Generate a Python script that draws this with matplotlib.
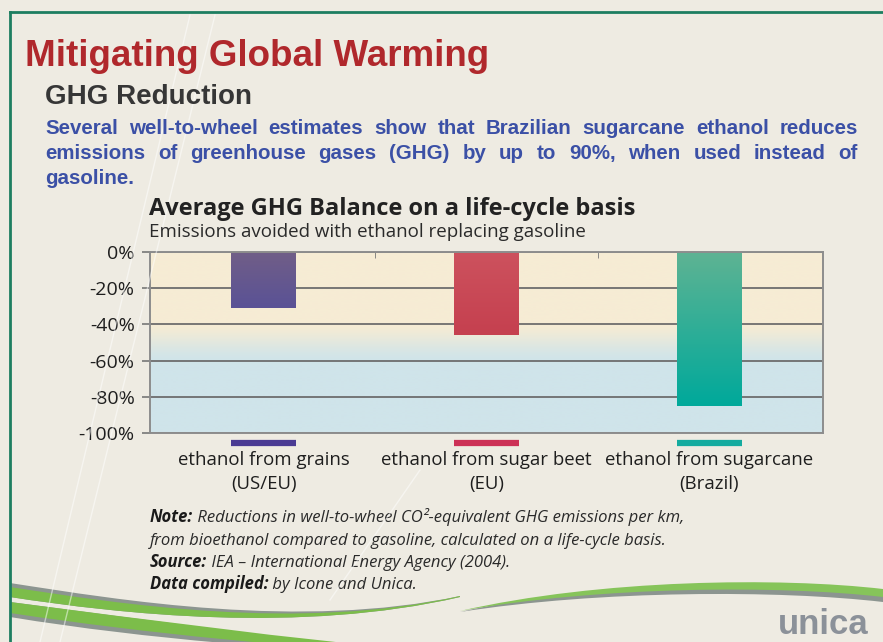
import numpy as np
import matplotlib.pyplot as plt
from matplotlib.colors import to_rgb
from matplotlib.patches import PathPatch
from matplotlib.path import Path
from matplotlib.lines import Line2D

# --- Data ---
categories = ['ethanol from grains\n(US/EU)',
              'ethanol from sugar beet\n(EU)',
              'ethanol from sugarcane\n(Brazil)']
reduction = [-31, -46, -85]          # % change in GHG emissions vs gasoline
bar_top = ['#715e87', '#cd525e', '#5eb393']
bar_bottom = ['#5a5296', '#c5404f', '#00a99b']
swatch_colors = ['#4a3b93', '#cc3156', '#14ab9f']
yticks = [0, -20, -40, -60, -80, -100]
ytick_labels = ['0%', '-20%', '-40%', '-60%', '-80%', '-100%']

W, H = 883, 642
BG = '#eeebe2'
ARIAL = ['Liberation Sans', 'DejaVu Sans']
HUMAN = ['Open Sans', 'DejaVu Sans']


def fx(x):
    return x / W


def fy(y):
    return 1 - y / H


fig = plt.figure(figsize=(W / 100, H / 100), dpi=100)
fig.patch.set_facecolor(BG)

# slide border (top + left)
fig.add_artist(Line2D([fx(10), fx(883)], [fy(12), fy(12)], color='#1d7e60', lw=2))
fig.add_artist(Line2D([fx(10), fx(10)], [fy(12), fy(642)], color='#1d7e60', lw=2))

# faint streaks in the background
for (x0, y0, x1, y1) in [(40, 642, 190, 15), (60, 642, 215, 15), (330, 600, 420, 470)]:
    fig.add_artist(Line2D([fx(x0), fx(x1)], [fy(y0), fy(y1)], color='white', lw=1, alpha=0.5))

# --- Headings ---
fig.text(fx(25), fy(66), 'Mitigating Global Warming', color='#b0282c', fontsize=26.5,
         fontweight='bold', family=ARIAL, va='baseline')
fig.text(fx(45), fy(104), 'GHG Reduction', color='#363636', fontsize=20,
         fontweight='bold', family=ARIAL, va='baseline')

# justified blue paragraph
para = ['Several well-to-wheel estimates show that Brazilian sugarcane ethanol reduces',
        'emissions of greenhouse gases (GHG) by up to 90%, when used instead of',
        'gasoline.']
baselines = [134, 159, 184]
renderer = fig.canvas.get_renderer()
left, right = 45, 858
for k, (line, yb) in enumerate(zip(para, baselines)):
    words = line.split()
    if k == len(para) - 1:
        fig.text(fx(left), fy(yb), line, color='#3b50a6', fontsize=14.8,
                 fontweight='bold', family=ARIAL, va='baseline')
        continue
    arts = [fig.text(0, fy(yb), w_, color='#3b50a6', fontsize=14.8, fontweight='bold',
                     family=ARIAL, va='baseline') for w_ in words]
    widths = [a.get_window_extent(renderer).width for a in arts]
    gap = (right - left - sum(widths)) / (len(words) - 1)
    xpos = left
    for a, wd in zip(arts, widths):
        a.set_x(fx(xpos))
        xpos += wd + gap

# chart headings
fig.text(fx(149), fy(215), 'Average GHG Balance on a life-cycle basis', fontsize=17,
         fontweight='bold', color='#222222', family=HUMAN, va='baseline')
fig.text(fx(149), fy(237), 'Emissions avoided with ethanol replacing gasoline', fontsize=13.5,
         color='#2a2a2a', family=HUMAN, va='baseline')

# --- Chart ---
ax = fig.add_axes([fx(150), fy(433), 673 / W, 181 / H])
x = np.arange(len(categories))
xlim = (-0.51, 2.51)

# background gradient: cream at top fading to pale blue
ys = np.linspace(0, -100, 200)
t = np.clip((-ys - 38) / 24, 0, 1)
t = t * t * (3 - 2 * t)
cream = np.array(to_rgb('#f6ecd4'))
blue = np.array(to_rgb('#cfe4ea'))
grad = cream[None, :] * (1 - t[:, None]) + blue[None, :] * t[:, None]
ax.imshow(grad[:, None, :], extent=[xlim[0], xlim[1], -100, 0], aspect='auto',
          zorder=0, interpolation='bilinear')

width = 0.29
bars = ax.bar(x, reduction, width=width, color=bar_bottom, zorder=2)
for b, c0, c1, v, xi in zip(bars, bar_top, bar_bottom, reduction, x):
    s = np.linspace(0, 1, 100)[:, None]
    g = np.array(to_rgb(c0))[None, :] * (1 - s) + np.array(to_rgb(c1))[None, :] * s
    im = ax.imshow(g[:, None, :], extent=[xi - width / 2, xi + width / 2, v, 0],
                   aspect='auto', zorder=2.1, interpolation='bilinear')
    im.set_clip_path(b)

# colour swatches under the axis
for xi, c in zip(x, swatch_colors):
    ax.plot([xi - width / 2, xi + width / 2], [-105.5, -105.5], color=c, lw=4.5,
            solid_capstyle='butt', clip_on=False, zorder=3)

ax.set_xlim(*xlim)
ax.set_ylim(-100, 0)
ax.set_yticks(yticks, ytick_labels)
ax.set_xticks(x, categories)
ax.set_xticks([0.5, 1.5], minor=True)
ax.set_axisbelow(True)
ax.yaxis.grid(True, color='#6d6d6d', lw=1.3, zorder=1)
ax.tick_params(axis='y', length=6, width=1.2, color='#777777', pad=5,
               labelsize=14, labelcolor='#1e1e1e')
ax.tick_params(axis='x', which='both', bottom=False, top=True, direction='in',
               length=4, color='#777777', labelsize=13.4, labelcolor='#1e1e1e', pad=13)
for lab in ax.get_xticklabels() + ax.get_yticklabels():
    lab.set_family(HUMAN)
for lab in ax.get_xticklabels():
    lab.set_linespacing(1.4)
for sp in ax.spines.values():
    sp.set_color('#8d8d8d')
    sp.set_linewidth(1.4)

# --- Notes ---
notes = [('Note:', ' Reductions in well-to-wheel CO²-equivalent GHG emissions per km,'),
         ('', 'from bioethanol compared to gasoline, calculated on a life-cycle basis.'),
         ('Source:', ' IEA \u2013 International Energy Agency (2004).'),
         ('Data compiled:', ' by Icone and Unica.')]
note_y = [522, 545, 567, 589]
for (head, rest), yb in zip(notes, note_y):
    if not head:
        fig.text(fx(150), fy(yb), rest, fontsize=12, style='italic', color='#2a2a2a',
                 family=HUMAN, va='baseline')
        continue
    t1 = fig.text(fx(150), fy(yb), head, fontsize=12, fontweight='bold', style='italic',
                  color='#1a1a1a', family=HUMAN, va='baseline')
    ax.annotate(rest, xy=(1, 0), xycoords=t1, va='bottom', ha='left', fontsize=12,
                style='italic', color='#2a2a2a', family=HUMAN, annotation_clip=False)


# --- Decorative swooshes ---
def band(top_pts, bot_pts, color, alpha=1.0):
    verts = [(fx(px), fy(py)) for px, py in top_pts + bot_pts[::-1]]
    codes = [Path.MOVETO] + [Path.CURVE4] * (len(top_pts) - 1) + \
            [Path.LINETO] + [Path.CURVE4] * (len(bot_pts) - 1)
    fig.add_artist(PathPatch(Path(verts, codes), transform=fig.transFigure,
                             facecolor=color, edgecolor='none', alpha=alpha))


band([(10, 583), (120, 600), (300, 630), (460, 596)],
     [(10, 597), (120, 614), (300, 634), (460, 597)], '#8c9590')
band([(10, 587), (120, 604), (300, 632), (460, 596)],
     [(10, 597), (120, 614), (300, 634), (460, 597)], '#7cbd4a')
band([(10, 602), (150, 620), (300, 642), (400, 650)],
     [(10, 617), (150, 640), (300, 650), (400, 655)], '#8c9590')
band([(10, 602), (150, 620), (300, 640), (400, 648)],
     [(10, 613), (150, 634), (300, 648), (400, 652)], '#7cbd4a')
band([(460, 612), (600, 580), (780, 578), (883, 590)],
     [(460, 612), (600, 590), (780, 590), (883, 602)], '#8c9590')
band([(460, 611), (600, 579), (780, 577), (883, 589)],
     [(460, 611), (600, 586), (780, 585), (883, 597)], '#86c45a')

fig.text(fx(778), fy(634), 'unica', fontsize=25, fontweight='bold', color='#8b9199',
         family=ARIAL, va='baseline')

fig.savefig('out.png', dpi=100, facecolor=BG)
